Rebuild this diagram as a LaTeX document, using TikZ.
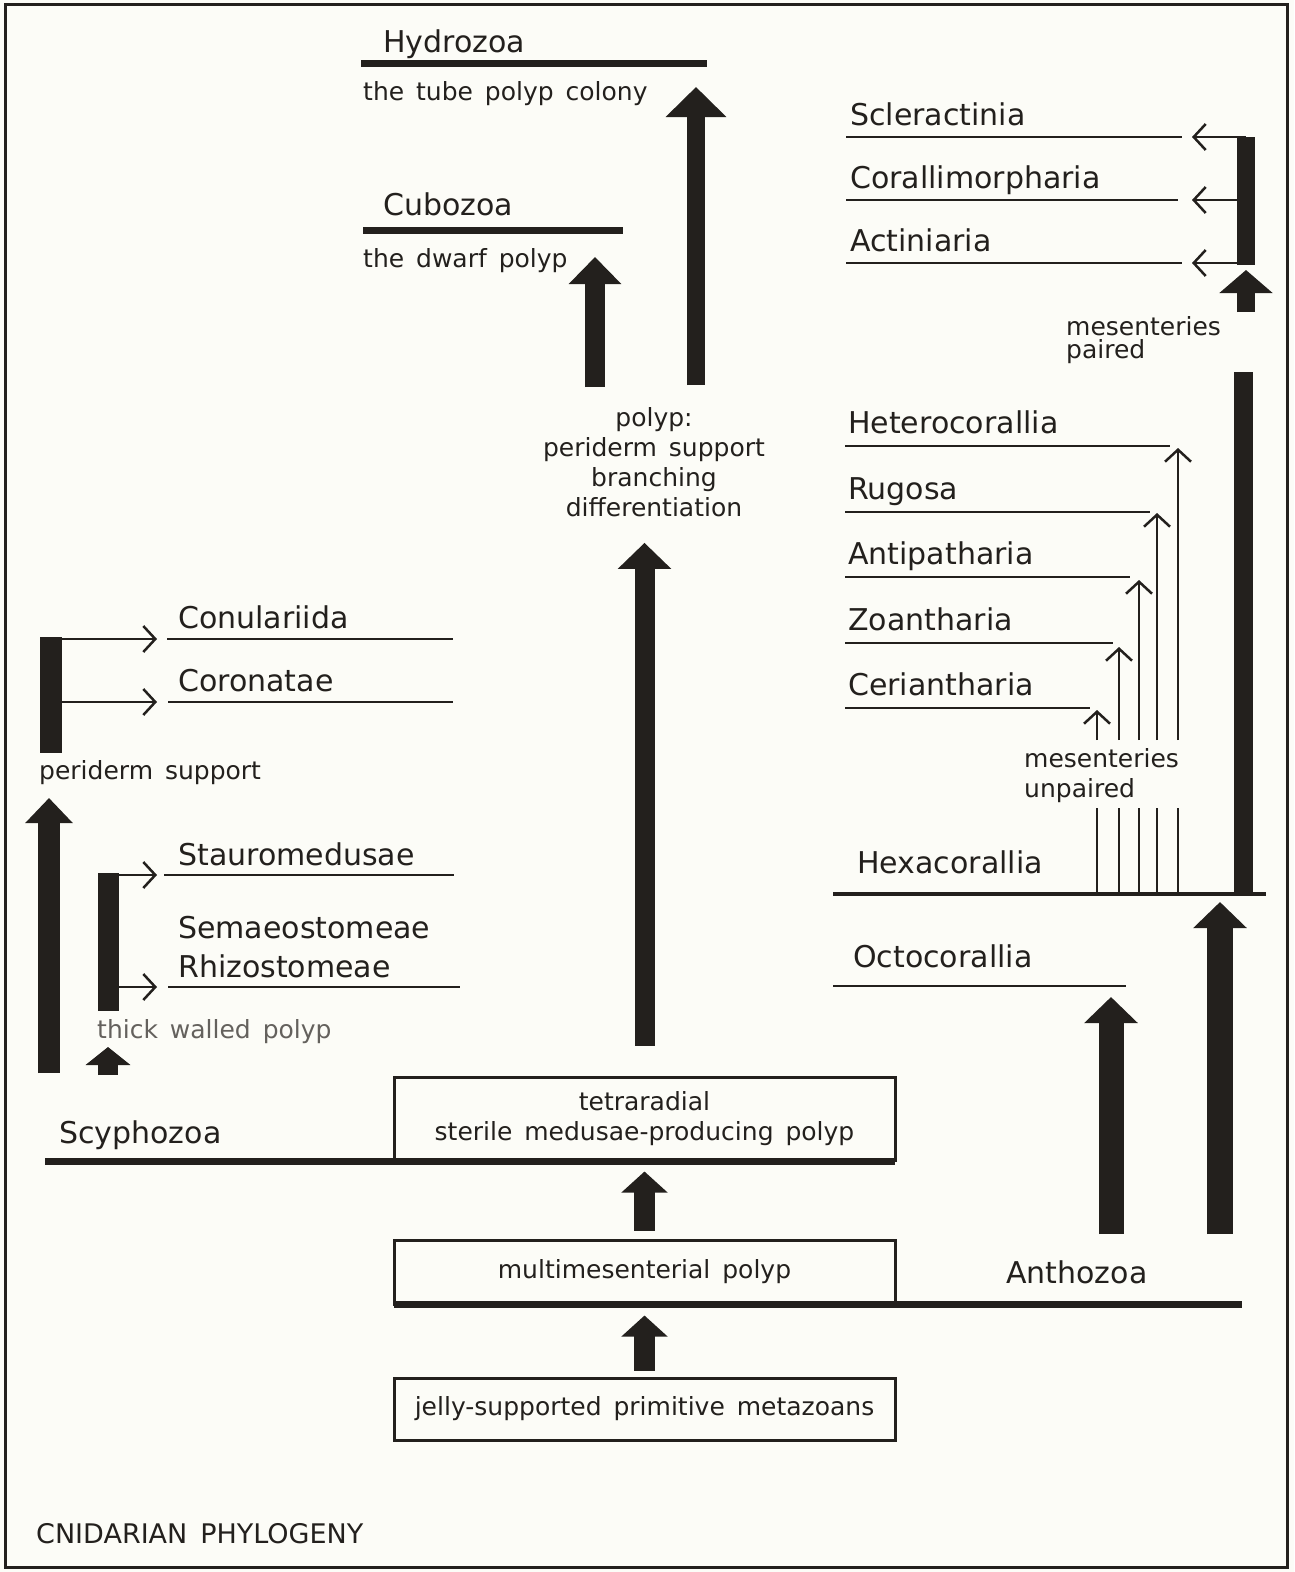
\documentclass[tikz,border=0pt]{standalone}
\usepackage{fontspec}
\setmainfont[WordSpace=1.5]{DejaVu Sans}
\usetikzlibrary{arrows.meta, positioning}
\definecolor{Ink}{RGB}{35,32,29}
\definecolor{Paper}{RGB}{252,252,247}
\definecolor{Pencil}{RGB}{100,97,93}

\tikzset{
    taxon/.style={anchor=base west, inner sep=0pt, font=\fontsize{30}{36}\selectfont},
    note/.style={anchor=base west, inner sep=0pt, font=\fontsize{25}{30}\selectfont},
    groupline/.style={line width=7pt},
    thinline/.style={line width=2.5pt},
    thinarrow/.style={line width=2.5pt, -{Straight Barb[length=12pt, width=26pt]}},
    bar/.style={line width=#1}, bar/.default=20pt,
    fat/.style={line width=#1, -{Triangle[length=26pt, width=52pt]}}, fat/.default=21pt,
    shortfat/.style={line width=#1, -{Triangle[length=21pt, width=45pt]}}, shortfat/.default=20pt,
    stage/.style={draw, line width=3pt, minimum width=501pt, inner sep=0pt, align=center,
        font=\fontsize{25}{30}\selectfont}
}

\begin{document}
\begin{tikzpicture}[x=1pt, y=-1pt, color=Ink]
\fill[Paper] (0,0) rectangle (1294,1572);
\useasboundingbox (0,0) rectangle (1294,1572);
\draw[line width=3pt] (5,4) rectangle (1287,1567);

% Hydrozoa and Cubozoa
\node[taxon] (hydrozoa) at (383,52) {Hydrozoa};
\draw[groupline] (361,63) -- (707,63);
\node[note] (tubecolony) at (363,100) {the tube polyp colony};
\node[taxon] (cubozoa) at (383,215) {Cubozoa};
\draw[groupline] (363,230) -- (623,230);
\node[note] (dwarfpolyp) at (363,267) {the dwarf polyp};
\node[note, anchor=center, align=center] (polypnote) at (654,462)
    {polyp:\\periderm support\\branching\\differentiation};
\coordinate (hydroTip) at (696,87);
\coordinate (cuboTip) at (595,257);
\draw[fat=18pt, -{Triangle[length=30pt, width=59pt]}] (hydroTip |- 0,385) -- (hydroTip);
\draw[fat=20pt, -{Triangle[length=27pt, width=51pt]}] (cuboTip |- 0,387) -- (cuboTip);

% stages along the stem
\node[stage, minimum height=83pt] (tetra) at (644.5,1118.5)
    {tetraradial\\sterile medusae-producing polyp};
\node[stage, minimum height=64pt] (multi) at (644.5,1272) {multimesenterial polyp};
\node[stage, minimum height=62pt] (jelly) at (644.5,1409) {jelly-supported primitive metazoans};
\draw[shortfat=21pt, shorten <=6pt, shorten >=10pt] (jelly) -- (multi);
\draw[shortfat=21pt, shorten <=8pt, shorten >=10pt] (multi) -- (tetra);
\draw[fat=20pt, shorten <=30pt, shorten >=26pt] (tetra.north) -- (tetra.north |- polypnote.south);

% Scyphozoa
\node[taxon] (scyphozoa) at (59,1143) {Scyphozoa};
\draw[groupline] (45,1161) -- (895,1161);
\foreach \name/\y/\xs/\xe in {Conulariida/639/167/453, Coronatae/702/168/453} {
    \node[taxon] (\name) at (178,\y-11) {\name};
    \draw[thinline] (\xs,\y) -- (\xe,\y);
    \draw[thinarrow] (51,\y) -- (157,\y);
}
\draw[bar=22pt] (51,637) -- (51,753);
\node[note] (periderm) at (39,779) {periderm support};
\draw[fat=22pt, -{Triangle[length=25pt, width=46pt]}] (49,1073) -- (49,798);
\node[taxon] (stauro) at (178,865) {Stauromedusae};
\draw[thinline] (164,875) -- (454,875);
\node[taxon] (semaeo) at (178,938) {Semaeostomeae};
\node[taxon] (rhizo) at (178,977) {Rhizostomeae};
\draw[thinline] (168,987) -- (460,987);
\draw[thinarrow] (108,875) -- (157,875);
\draw[thinarrow] (108,987) -- (157,987);
\draw[bar=21pt] (108,873) -- (108,1011);
\node[note, text=Pencil] (thickwalled) at (97,1038) {thick walled polyp};
\draw[shortfat=20pt, -{Triangle[length=18pt, width=44pt]}] (108,1075) -- (108,1047);

% Anthozoa
\node[taxon] (anthozoa) at (1006,1283) {Anthozoa};
\draw[groupline] (394,1304) -- (1242,1304);
\node[taxon] (octo) at (853,967) {Octocorallia};
\draw[thinline] (833,986) -- (1126,986);
\draw[fat=25pt] (1111,1234) -- (1111,997);
\draw[fat=26pt] (1220,1234) -- (1220,902);
\node[taxon] (hexa) at (857,873) {Hexacorallia};
\draw[line width=3.5pt] (833,894) -- (1266,894);

% Hexacorallia, mesenteries unpaired
\foreach \name/\y/\xe/\ax/\tip in {Heterocorallia/446/1170/1178/448, Rugosa/512/1150/1157/513,
        Antipatharia/577/1130/1139/580, Zoantharia/643/1113/1119/647, Ceriantharia/708/1090/1097/710} {
    \node[taxon] (\name) at (848,\y-13) {\name};
    \draw[thinline] (845,\y) -- (\xe,\y);
    \coordinate (\name-tip) at (\ax,\tip);
    \draw[thinarrow] (\name-tip |- 0,740) -- (\name-tip);
    \draw[thinline] (\name-tip |- 0,808) -- (\name-tip |- 0,894);
}
\node[note, anchor=north west, align=left] (unpaired) at (1024,748) {mesenteries\\unpaired};

% Hexacorallia, mesenteries paired
\draw[bar=19pt] (1243,372) -- (1243,892);
\node[note, anchor=north west, align=left] (paired) at (1066,316) {mesenteries\\[-7pt]paired};
\draw[shortfat=18pt, -{Triangle[length=23pt, width=52pt]}] (1246,312) -- (1246,270);
\foreach \name/\y/\xe in {Scleractinia/137/1182, Corallimorpharia/200/1178, Actiniaria/263/1182} {
    \node[taxon] (\name) at (850,\y-12) {\name};
    \draw[thinline] (846,\y) -- (\xe,\y);
    \draw[thinarrow] (1246,\y) -- (1192,\y);
}
\draw[bar=18pt] (1246,137) -- (1246,265);

\node[anchor=base west, inner sep=0pt, font=\fontsize{27}{32}\selectfont] (title) at (36,1543)
    {CNIDARIAN PHYLOGENY};
\end{tikzpicture}
\end{document}
